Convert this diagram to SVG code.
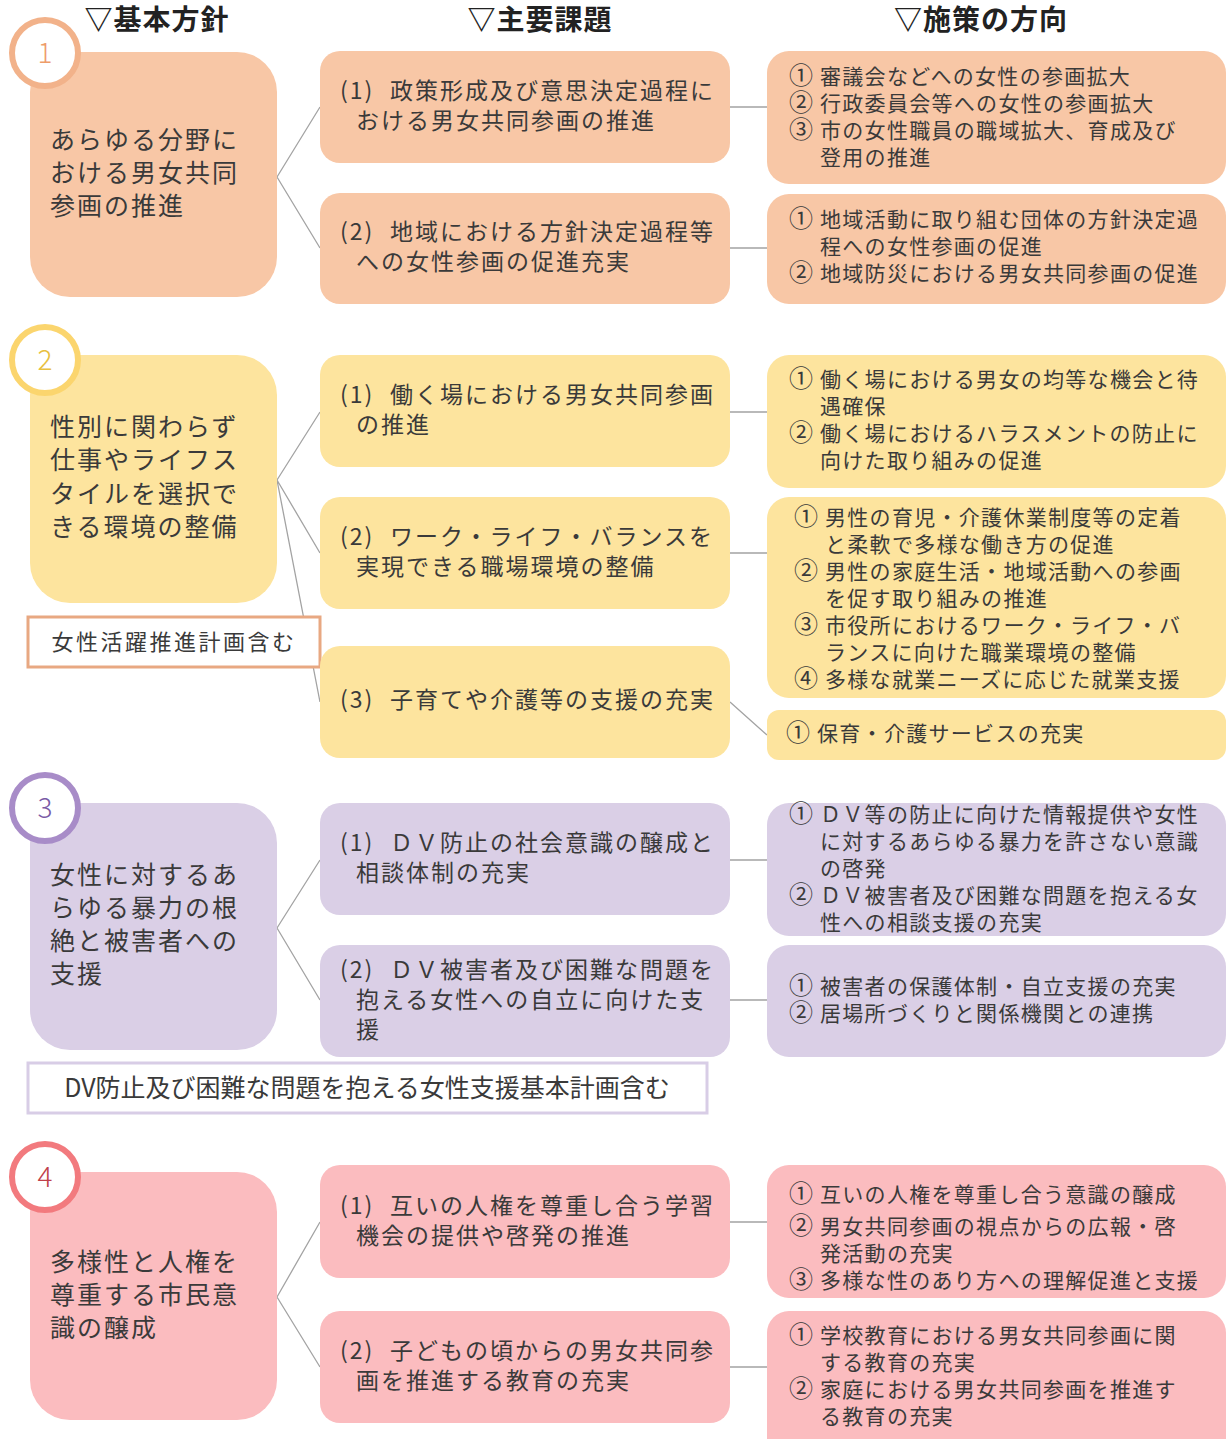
<svg xmlns="http://www.w3.org/2000/svg" width="1226" height="1439" viewBox="0 0 1226 1439">
<style>
text{font-family:"Noto Sans CJK JP","Noto Sans CJK SC",sans-serif;fill:#3a3a3a}
.h{font-size:28px;font-weight:bold;fill:#222;letter-spacing:1px;text-anchor:middle}
.l{font-size:25px;letter-spacing:2px}
.m{font-size:23px;letter-spacing:2px}
.r{font-size:21px;letter-spacing:1.3px}
.r tspan.d{font-size:24px;letter-spacing:0}
.n{font-size:28px;text-anchor:middle;font-weight:300}
.c{stroke:#a3a3a3;stroke-width:1.3;fill:none}
.o{fill:#f8c7a6}.y{fill:#fde49e}.p{fill:#dacfe6}.k{fill:#fbbcbf}
.note{font-size:22px;letter-spacing:2.5px;text-anchor:middle}
</style>
<rect width="1226" height="1439" fill="#fff"/>
<g id="headers">
<text class="h" x="157" y="30">▽基本方針</text>
<text class="h" x="540" y="30">▽主要課題</text>
<text class="h" x="981" y="30">▽施策の方向</text>
</g>
<g id="connectors">
<path class="c" d="M277 177 L320 107 M277 177 L320 248 M730 107 H767 M730 248 H767"/>
<path class="c" d="M277 480 L320 412 M277 480 L320 553 M277 480 L320 702 M730 412 H767 M730 553 H767 M730 702 L767 735"/>
<path class="c" d="M277 928 L320 860 M277 928 L320 1000 M730 860 H767 M730 1000 H767"/>
<path class="c" d="M277 1297 L320 1222 M277 1297 L320 1367 M730 1222 H767 M730 1367 H767"/>
</g>
<!-- Section 1 -->
<g id="policy1">
<rect class="o" x="30" y="52" width="247" height="245" rx="40"/>
<circle cx="45" cy="53" r="33" fill="#fff" stroke="#f2b28a" stroke-width="6"/>
<text class="n" x="45" y="63" style="fill:#ee9c6a">1</text>
<text class="l" x="50" y="149">あらゆる分野に</text>
<text class="l" x="50" y="182">おける男女共同</text>
<text class="l" x="50" y="215">参画の推進</text>
</g>
<g id="issue1-1">
<rect class="o" x="320" y="51" width="410" height="112" rx="20"/>
<text class="m" y="99"><tspan x="340">(1)</tspan><tspan x="390">政策形成及び意思決定過程に</tspan></text>
<text class="m" x="356" y="129">おける男女共同参画の推進</text>
</g>
<g id="issue1-2">
<rect class="o" x="320" y="193" width="410" height="111" rx="20"/>
<text class="m" y="240"><tspan x="340">(2)</tspan><tspan x="390">地域における方針決定過程等</tspan></text>
<text class="m" x="356" y="270">への女性参画の促進充実</text>
</g>
<g id="measure1-1">
<rect class="o" x="767" y="51" width="459" height="133" rx="22"/>
<text class="r" y="84"><tspan class="d" x="789">①</tspan><tspan x="820">審議会などへの女性の参画拡大</tspan></text>
<text class="r" y="111"><tspan class="d" x="789">②</tspan><tspan x="820">行政委員会等への女性の参画拡大</tspan></text>
<text class="r" y="138"><tspan class="d" x="789">③</tspan><tspan x="820">市の女性職員の職域拡大、育成及び</tspan></text>
<text class="r" x="820" y="165">登用の推進</text>
</g>
<g id="measure1-2">
<rect class="o" x="767" y="194" width="459" height="110" rx="22"/>
<text class="r" y="227"><tspan class="d" x="789">①</tspan><tspan x="820">地域活動に取り組む団体の方針決定過</tspan></text>
<text class="r" x="820" y="254">程への女性参画の促進</text>
<text class="r" y="281"><tspan class="d" x="789">②</tspan><tspan x="820">地域防災における男女共同参画の促進</tspan></text>
</g>
<!-- Section 2 -->
<g id="policy2">
<rect class="y" x="30" y="355" width="247" height="248" rx="40"/>
<circle cx="45" cy="360" r="33" fill="#fff" stroke="#fbd56e" stroke-width="6"/>
<text class="n" x="45" y="370" style="fill:#e8c040">2</text>
<text class="l" x="50" y="436">性別に関わらず</text>
<text class="l" x="50" y="469">仕事やライフス</text>
<text class="l" x="50" y="503">タイルを選択で</text>
<text class="l" x="50" y="536">きる環境の整備</text>
</g>
<g id="note2">
<rect x="28" y="617" width="292" height="50" fill="#fff" stroke="#e8a882" stroke-width="3"/>
<text class="note" x="174" y="650">女性活躍推進計画含む</text>
</g>
<g id="issue2-1">
<rect class="y" x="320" y="355" width="410" height="112" rx="20"/>
<text class="m" y="403"><tspan x="340">(1)</tspan><tspan x="390">働く場における男女共同参画</tspan></text>
<text class="m" x="356" y="433">の推進</text>
</g>
<g id="issue2-2">
<rect class="y" x="320" y="497" width="410" height="112" rx="20"/>
<text class="m" y="545"><tspan x="340">(2)</tspan><tspan x="390">ワーク・ライフ・バランスを</tspan></text>
<text class="m" x="356" y="575">実現できる職場環境の整備</text>
</g>
<g id="issue2-3">
<rect class="y" x="320" y="646" width="410" height="112" rx="20"/>
<text class="m" y="708"><tspan x="340">(3)</tspan><tspan x="390">子育てや介護等の支援の充実</tspan></text>
</g>
<g id="measure2-1">
<rect class="y" x="767" y="355" width="459" height="133" rx="22"/>
<text class="r" y="387"><tspan class="d" x="789">①</tspan><tspan x="820">働く場における男女の均等な機会と待</tspan></text>
<text class="r" x="820" y="414">遇確保</text>
<text class="r" y="441"><tspan class="d" x="789">②</tspan><tspan x="820">働く場におけるハラスメントの防止に</tspan></text>
<text class="r" x="820" y="468">向けた取り組みの促進</text>
</g>
<g id="measure2-2">
<rect class="y" x="767" y="497" width="459" height="201" rx="22"/>
<text class="r" y="525"><tspan class="d" x="794">①</tspan><tspan x="825">男性の育児・介護休業制度等の定着</tspan></text>
<text class="r" x="825" y="552">と柔軟で多様な働き方の促進</text>
<text class="r" y="579"><tspan class="d" x="794">②</tspan><tspan x="825">男性の家庭生活・地域活動への参画</tspan></text>
<text class="r" x="825" y="606">を促す取り組みの推進</text>
<text class="r" y="633"><tspan class="d" x="794">③</tspan><tspan x="825">市役所におけるワーク・ライフ・バ</tspan></text>
<text class="r" x="825" y="660">ランスに向けた職業環境の整備</text>
<text class="r" y="687"><tspan class="d" x="794">④</tspan><tspan x="825">多様な就業ニーズに応じた就業支援</tspan></text>
</g>
<g id="measure2-3">
<rect class="y" x="767" y="710" width="459" height="50" rx="12"/>
<text class="r" y="741"><tspan class="d" x="786">①</tspan><tspan x="817">保育・介護サービスの充実</tspan></text>
</g>
<!-- Section 3 -->
<g id="policy3">
<rect class="p" x="30" y="803" width="247" height="247" rx="40"/>
<circle cx="45" cy="808" r="33" fill="#fff" stroke="#a88cc8" stroke-width="6"/>
<text class="n" x="45" y="818" style="fill:#7a5aa6">3</text>
<text class="l" x="50" y="884">女性に対するあ</text>
<text class="l" x="50" y="917">らゆる暴力の根</text>
<text class="l" x="50" y="950">絶と被害者への</text>
<text class="l" x="50" y="983">支援</text>
</g>
<g id="issue3-1">
<rect class="p" x="320" y="803" width="410" height="112" rx="20"/>
<text class="m" y="851"><tspan x="340">(1)</tspan><tspan x="390">ＤＶ防止の社会意識の醸成と</tspan></text>
<text class="m" x="356" y="881">相談体制の充実</text>
</g>
<g id="issue3-2">
<rect class="p" x="320" y="945" width="410" height="112" rx="20"/>
<text class="m" y="978"><tspan x="340">(2)</tspan><tspan x="390">ＤＶ被害者及び困難な問題を</tspan></text>
<text class="m" x="356" y="1008">抱える女性への自立に向けた支</text>
<text class="m" x="356" y="1038">援</text>
</g>
<g id="measure3-1">
<rect class="p" x="767" y="803" width="459" height="133" rx="22"/>
<text class="r" y="822"><tspan class="d" x="789">①</tspan><tspan x="820">ＤＶ等の防止に向けた情報提供や女性</tspan></text>
<text class="r" x="820" y="849">に対するあらゆる暴力を許さない意識</text>
<text class="r" x="820" y="876">の啓発</text>
<text class="r" y="903"><tspan class="d" x="789">②</tspan><tspan x="820">ＤＶ被害者及び困難な問題を抱える女</tspan></text>
<text class="r" x="820" y="930">性への相談支援の充実</text>
</g>
<g id="measure3-2">
<rect class="p" x="767" y="945" width="459" height="112" rx="22"/>
<text class="r" y="994"><tspan class="d" x="789">①</tspan><tspan x="820">被害者の保護体制・自立支援の充実</tspan></text>
<text class="r" y="1021"><tspan class="d" x="789">②</tspan><tspan x="820">居場所づくりと関係機関との連携</tspan></text>
</g>
<g id="note3">
<rect x="28" y="1063" width="679" height="50" fill="#fff" stroke="#d8cde6" stroke-width="3"/>
<text x="367" y="1097" style="font-size:25px;text-anchor:middle">DV防止及び困難な問題を抱える女性支援基本計画含む</text>
</g>
<!-- Section 4 -->
<g id="policy4">
<rect class="k" x="30" y="1172" width="247" height="248" rx="40"/>
<circle cx="45" cy="1177" r="33" fill="#fff" stroke="#f27a7e" stroke-width="6"/>
<text class="n" x="45" y="1187" style="fill:#c0404a">4</text>
<text class="l" x="50" y="1271">多様性と人権を</text>
<text class="l" x="50" y="1304">尊重する市民意</text>
<text class="l" x="50" y="1337">識の醸成</text>
</g>
<g id="issue4-1">
<rect class="k" x="320" y="1165" width="410" height="113" rx="20"/>
<text class="m" y="1214"><tspan x="340">(1)</tspan><tspan x="390">互いの人権を尊重し合う学習</tspan></text>
<text class="m" x="356" y="1244">機会の提供や啓発の推進</text>
</g>
<g id="issue4-2">
<rect class="k" x="320" y="1311" width="410" height="112" rx="20"/>
<text class="m" y="1359"><tspan x="340">(2)</tspan><tspan x="390">子どもの頃からの男女共同参</tspan></text>
<text class="m" x="356" y="1389">画を推進する教育の充実</text>
</g>
<g id="measure4-1">
<rect class="k" x="767" y="1165" width="459" height="133" rx="22"/>
<text class="r" y="1202"><tspan class="d" x="789">①</tspan><tspan x="820">互いの人権を尊重し合う意識の醸成</tspan></text>
<text class="r" y="1234"><tspan class="d" x="789">②</tspan><tspan x="820">男女共同参画の視点からの広報・啓</tspan></text>
<text class="r" x="820" y="1261">発活動の充実</text>
<text class="r" y="1288"><tspan class="d" x="789">③</tspan><tspan x="820">多様な性のあり方への理解促進と支援</tspan></text>
</g>
<g id="measure4-2">
<rect class="k" x="767" y="1311" width="459" height="150" rx="22"/>
<text class="r" y="1343"><tspan class="d" x="789">①</tspan><tspan x="820">学校教育における男女共同参画に関</tspan></text>
<text class="r" x="820" y="1370">する教育の充実</text>
<text class="r" y="1397"><tspan class="d" x="789">②</tspan><tspan x="820">家庭における男女共同参画を推進す</tspan></text>
<text class="r" x="820" y="1424">る教育の充実</text>
</g>
</svg>
